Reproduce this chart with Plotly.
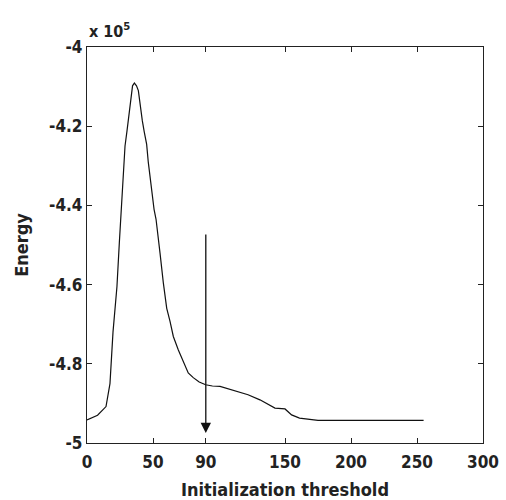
import plotly.graph_objects as go

threshold = [0, 8, 14.4, 16, 17.4, 19.7, 22.7, 24.5, 26.3, 27.5, 28.8, 30.3, 31.8, 33, 34.5,
             35.9, 37.5, 38.9, 40.2, 41.9, 43.4, 45.2, 46.4, 47.7, 49.2, 50.8, 52.3, 54, 55.3,
             57.8, 60.4, 62.9, 65.4, 69.2, 73, 76.7, 80.5, 85, 89.9, 95, 100.8, 110.8, 122,
             131, 142.4, 150, 155, 161, 175, 255]
energy = [-4.942, -4.93, -4.908, -4.873, -4.85, -4.72, -4.605, -4.494, -4.385, -4.334, -4.25,
          -4.212, -4.165, -4.132, -4.098, -4.091, -4.098, -4.11, -4.149, -4.186, -4.215, -4.246,
          -4.29, -4.326, -4.367, -4.41, -4.435, -4.477, -4.52, -4.595, -4.66, -4.693, -4.731,
          -4.765, -4.797, -4.823, -4.835, -4.846, -4.853, -4.856, -4.857, -4.866, -4.878,
          -4.891, -4.912, -4.914, -4.929, -4.937, -4.943, -4.943]

x_tickvals = [0, 50, 90, 150, 200, 250, 300]
y_tickvals = [-5, -4.8, -4.6, -4.4, -4.2, -4]
y_ticktext = ["-5", "-4.8", "-4.6", "-4.4", "-4.2", "-4"]

arrow_x = 90
arrow_top = -4.47
arrow_tip = -4.975

FONT = "Liberation Sans Narrow, DejaVu Sans Condensed, Arial Narrow, Arial"

fig = go.Figure()
fig.add_trace(go.Scatter(x=threshold, y=energy, mode="lines",
                         line=dict(color="#111111", width=1.2), showlegend=False))

fig.add_annotation(x=arrow_x, y=arrow_tip, ax=arrow_x, ay=arrow_top,
                   xref="x", yref="y", axref="x", ayref="y", text="",
                   showarrow=True, arrowhead=2, arrowsize=1.6, arrowwidth=1.3,
                   arrowcolor="#111111")

fig.add_annotation(x=0, y=1.0, xref="paper", yref="paper", xanchor="left", yanchor="bottom",
                   yshift=4, text="x 10<sup>5</sup>", showarrow=False,
                   font=dict(family=FONT, size=16, color="#222222", weight="bold"))

axis_common = dict(showline=True, linecolor="#222222", linewidth=1.2, mirror="ticks",
                   ticks="inside", ticklen=5, tickcolor="#222222", showgrid=False,
                   zeroline=False, automargin=False,
                   tickfont=dict(family=FONT, size=17, color="#222222", weight="bold"))

fig.update_xaxes(range=[0, 300], tickvals=x_tickvals, ticklabelstandoff=3, **axis_common,
                 title=dict(text="Initialization threshold", standoff=12,
                            font=dict(family=FONT, size=18, color="#222222", weight="bold")))
fig.update_yaxes(range=[-5, -4], tickvals=y_tickvals, ticktext=y_ticktext, **axis_common,
                 title=dict(text="Energy", standoff=15,
                            font=dict(family=FONT, size=18, color="#222222", weight="bold")))

fig.update_layout(width=506, height=500, margin=dict(l=87, r=23, t=47, b=57),
                  paper_bgcolor="white", plot_bgcolor="white")

fig.write_html("out.html")
